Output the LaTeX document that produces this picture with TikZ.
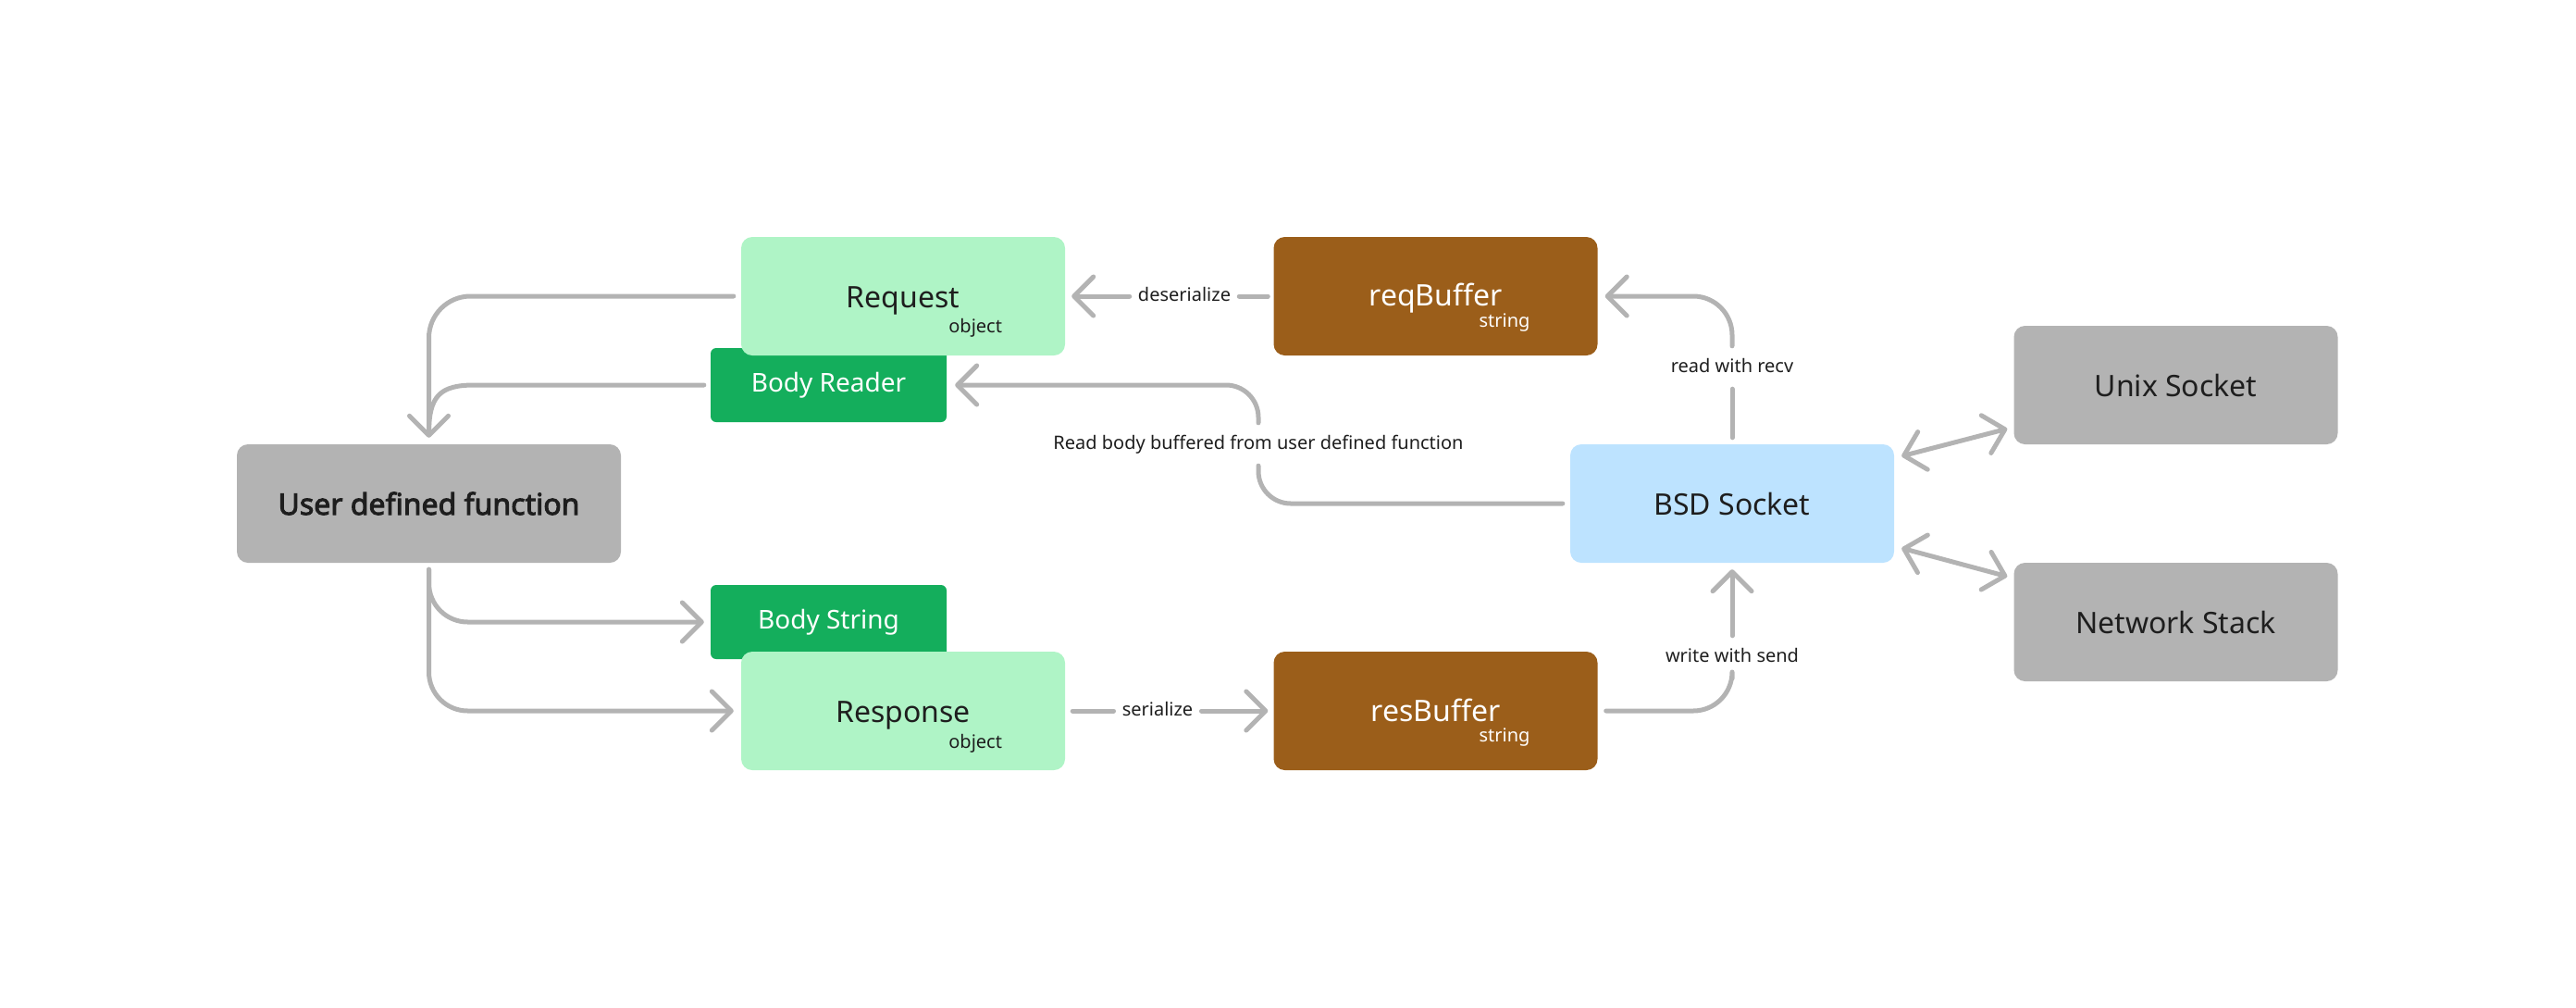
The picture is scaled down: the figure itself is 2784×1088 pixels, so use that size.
\documentclass[tikz,border=0pt]{standalone}
\usepackage{fontspec}
\setmainfont{Noto Sans}
\newfontfamily\udffont{Noto Sans}[FakeBold=3]
\usetikzlibrary{arrows.meta,calc}
\definecolor{lgreen}{HTML}{AFF4C6}
\definecolor{dgreen}{HTML}{14AE5C}
\definecolor{bufbrown}{HTML}{9B5E1A}
\definecolor{lblue}{HTML}{BDE3FF}
\definecolor{boxgray}{HTML}{B3B3B3}
\definecolor{linegray}{HTML}{B3B3B3}
\definecolor{ink}{HTML}{1E1E1E}
\tikzset{
  bigbox/.style={rounded corners=12pt, minimum width=350pt, minimum height=128pt, inner sep=0pt, draw=none},
  bodybox/.style={rounded corners=6pt, minimum width=255pt, minimum height=80pt, inner sep=0pt, fill=dgreen, text=white, font=\fontsize{28}{34}\selectfont},
  title/.style={anchor=base, inner sep=0pt, font=\fontsize{32}{38}\selectfont},
  subtitle/.style={anchor=base east, inner sep=0pt, font=\fontsize{20}{24}\selectfont},
  elabel/.style={inner xsep=9pt, inner ysep=14pt, text height=14pt, text depth=4pt, text=ink, font=\fontsize{20}{24}\selectfont},
  conn/.style={draw=linegray, line width=5pt, line cap=round, line join=round},
  tip/.tip={Straight Barb[length=21pt, width=42pt, round]},
}
\begin{document}
\begin{tikzpicture}[x=1pt, y=-1pt]
\useasboundingbox (0,0) rectangle (2784,1088);
% body boxes (behind)
\node[bodybox] (br) at (895.5,416) {Body Reader};
\node[bodybox] (bs) at (895.5,672) {Body String};
% main boxes
\node[bigbox, fill=lgreen] (req) at (976,320) {};
\node[title, text=ink] (reqt) at ($(req.center)+(0,12)$) {Request};
\node[subtitle, text=ink] (reqs) at ($(req.east)+(-68,39)$) {object};
\node[bigbox, fill=bufbrown] (rqb) at (1551.5,320) {};
\node[title, text=white] (rqbt) at ($(rqb.center)+(0,10)$) {reqBuffer};
\node[subtitle, text=white] (rqbs) at ($(rqb.east)+(-73,33)$) {string};
\node[bigbox, fill=lgreen] (resp) at (976,768) {};
\node[title, text=ink] (respt) at ($(resp.center)+(0,12)$) {Response};
\node[subtitle, text=ink] (resps) at ($(resp.east)+(-68,40)$) {object};
\node[bigbox, fill=bufbrown] (rsb) at (1551.5,768) {};
\node[title, text=white] (rsbt) at ($(rsb.center)+(0,11)$) {resBuffer};
\node[subtitle, text=white] (rsbs) at ($(rsb.east)+(-73,33)$) {string};
\node[bigbox, fill=boxgray, minimum width=415pt, text=ink, font=\udffont\fontsize{32}{38}\selectfont] (udf) at (463.5,544) {User defined function};
\node[bigbox, fill=lblue, text=ink, font=\fontsize{32}{38}\selectfont] (bsd) at (1872,544) {BSD Socket};
\node[bigbox, fill=boxgray, text=ink, font=\fontsize{32}{38}\selectfont] (unix) at (2351.5,416) {Unix Socket};
\node[bigbox, fill=boxgray, text=ink, font=\fontsize{32}{38}\selectfont] (net) at (2351.5,672) {Network Stack};
% edge labels
\node[elabel] (des) at (1280,320) {deserialize};
\node[elabel] (ser) at (1251,768) {serialize};
\node[elabel] (rr) at (1872,397) {read with recv};
\node[elabel] (ws) at (1872,710) {write with send};
\node[elabel] (rb) at (1360,480) {Read body buffered from user defined function};
% connectors
\draw[conn, -{tip}, rounded corners=45pt] ($(req.west)+(-8,0)$) -| ($(udf.north)+(0,-7)$);
\draw[conn] ($(br.west)+(-7,0)$) -- ($(udf.north |- br.west)+(49,0)$) .. controls +(-37,0) and +(0,-40) .. ($(udf.north)+(0,-12)$);
\draw[conn, rounded corners=35pt] ($(bsd.west)+(-8,0)$) -| (rb.south);
\draw[conn, -{tip}, rounded corners=35pt] (rb.north) |- ($(br.east)+(9,0)$);
\draw[conn] ($(rqb.west)+(-6,0)$) -- (des.east);
\draw[conn, -{tip}] (des.west) -- ($(req.east)+(7,0)$);
\draw[conn] ($(bsd.north)+(0,-7)$) -- (rr.south);
\draw[conn, -{tip}, rounded corners=42pt] (rr.north) |- ($(rqb.east)+(8,0)$);
\draw[conn, rounded corners=42pt] ($(rsb.east)+(9,0)$) -| (ws.south);
\draw[conn, -{tip}] (ws.north) -- ($(bsd.south)+(0,7)$);
\draw[conn, -{tip}, rounded corners=42pt] ($(udf.south)+(0,7)$) |- ($(bs.west)+(-7,0)$);
\draw[conn, -{tip}, rounded corners=42pt] ($(udf.south)+(0,7)$) |- ($(resp.west)+(-8,0)$);
\draw[conn] ($(resp.east)+(8,0)$) -- (ser.west);
\draw[conn, -{tip}] (ser.east) -- ($(rsb.west)+(-6,0)$);
\draw[conn, {tip}-{tip}] ($(bsd.north east)+(8,13)$) -- ($(unix.south west)+(-7,-17)$);
\draw[conn, {tip}-{tip}] ($(bsd.south east)+(8,-16)$) -- ($(net.north west)+(-7,15)$);
\end{tikzpicture}
\end{document}
